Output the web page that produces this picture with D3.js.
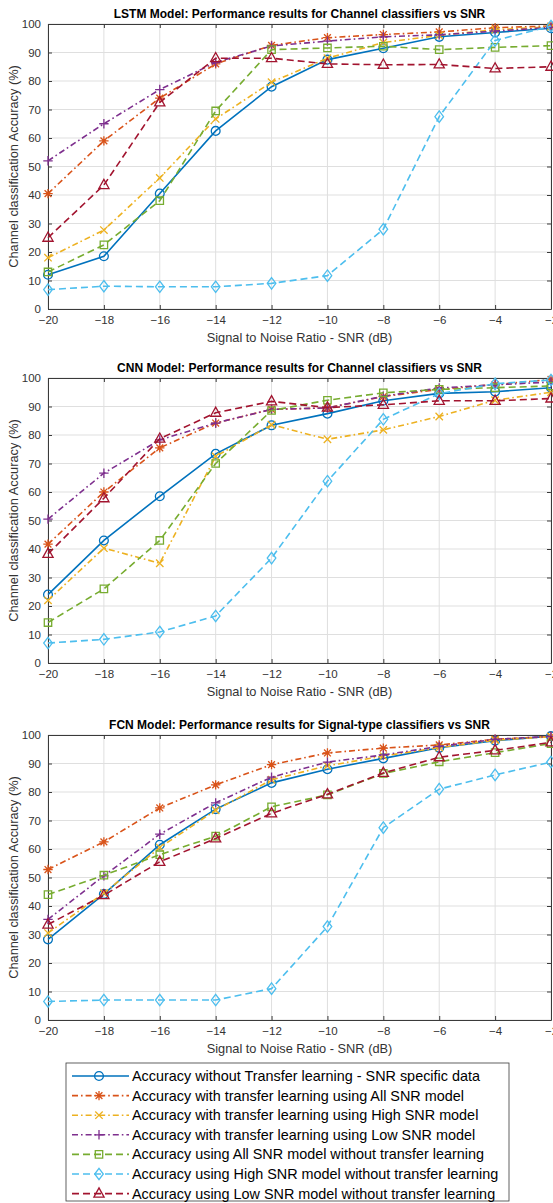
<!DOCTYPE html>
<html>
<head>
<meta charset="utf-8">
<script src="https://cdn.jsdelivr.net/npm/d3@7"></script>
<style>
  body { margin: 0; background: #fff; }
  svg { display: block; font-family: "Liberation Sans", Arial, sans-serif; }
  .tick-label { font-size: 11.5px; fill: #333; }
  .axis-label { font-size: 12.8px; fill: #333; }
  .panel-title { font-size: 12px; font-weight: bold; fill: #000; }
  .legend-text { font-size: 14.4px; fill: #000; }
</style>
</head>
<body>
<div id="chart"></div>
<script>
// x values (dB)
const snr = [-20, -18, -16, -14, -12, -10, -8, -6, -4, -2];
const yTicks = [0, 10, 20, 30, 40, 50, 60, 70, 80, 90, 100];

const seriesNames = [
  "Accuracy without Transfer learning - SNR specific data",
  "Accuracy with transfer learning using All SNR model",
  "Accuracy with transfer learning using High SNR model",
  "Accuracy with transfer learning using Low SNR model",
  "Accuracy using All SNR model without transfer learning",
  "Accuracy using High SNR model without transfer learning",
  "Accuracy using Low SNR model without transfer learning"
];
const seriesColors = ["#0072BD", "#D95319", "#EDB120", "#7E2F8E", "#77AC30", "#4DBEEE", "#A2142F"];
const seriesMarkers = ["circle", "asterisk", "times", "plus", "square", "diamond", "triangle"];
const seriesDash = ["solid", "dashdot", "dashdot", "dashdot", "dashed", "dashed", "dashed"];

// accuracy (%) per series, same order as seriesNames
const lstmAcc = [
  [12, 18.5, 40.5, 62.5, 78, 87.5, 91.5, 95.5, 97, 98.5],
  [40.5, 59, 74, 86, 92.5, 95.2, 96.3, 97.2, 98.7, 99.3],
  [18, 27.7, 46, 66.7, 79.6, 88, 93.5, 96, 98, 99],
  [52, 65, 77, 86.5, 92.3, 94, 95.5, 96.2, 97.5, 98.8],
  [13, 22.5, 38, 69.5, 91, 91.6, 92.2, 91, 91.8, 92.4],
  [6.8, 8, 7.8, 7.8, 9, 11.7, 28, 67.5, 94.2, 99.3],
  [25, 43.5, 72.5, 88, 88, 86, 85.7, 85.8, 84.4, 85]
];
const cnnAcc = [
  [24, 43, 58.5, 73.4, 83.4, 87.5, 92, 94.6, 95.2, 96.6],
  [41.7, 60, 75.5, 84.2, 89, 89.5, 93.5, 96, 97.7, 99.5],
  [22, 40.3, 35, 72.5, 83.6, 78.5, 81.8, 86.5, 92.2, 95],
  [50.5, 66.6, 78.3, 84.2, 89, 89.5, 93.6, 96.5, 97.6, 98.6],
  [14.2, 26, 43, 70, 88.6, 92.2, 94.8, 96, 96.6, 97.2],
  [7, 8.3, 10.9, 16.5, 36.8, 63.8, 85.5, 94.5, 98, 99.3],
  [38.3, 57.8, 78.7, 87.8, 91.8, 89.6, 90.6, 92, 92, 92.8]
];
const fcnAcc = [
  [28.3, 44.2, 61.5, 74, 83.2, 88, 91.8, 95.5, 98, 99.6],
  [52.8, 62.5, 74.4, 82.5, 89.6, 93.7, 95.4, 96.5, 98.5, 99.5],
  [30.5, 44.5, 60.5, 73.6, 84.3, 89.2, 92.6, 95.6, 98.2, 99.4],
  [35.3, 50.6, 65.2, 76.2, 85.2, 90.5, 93, 96, 98.5, 99.5],
  [44, 50.8, 58, 64.5, 74.8, 79, 86.5, 90.6, 93.8, 97],
  [6.5, 7, 7, 7, 11, 32.8, 67.5, 81, 86, 90.5],
  [33.5, 43.8, 55.5, 63.7, 72.5, 79.2, 86.7, 92.2, 94.6, 97.4]
];

const panelTitles = [
  "LSTM Model: Performance results for Channel classifiers vs SNR",
  "CNN Model: Performance results for Channel classifiers vs SNR",
  "FCN Model: Performance results for Signal-type classifiers vs SNR"
];
const panelData = [lstmAcc, cnnAcc, fcnAcc];

const width = 553, height = 1203;
const plotLeft = 48, plotRight = 551, plotHeight = 285;
const panelTops = [24, 378, 735];
const axisColor = "#3a3a3a";

const dashArrays = { solid: null, dashdot: "6,3,1.6,3", dashed: "7,4" };

function markerPath(type) {
  if (type === "circle") return d3.symbol().type(d3.symbolCircle).size(Math.PI * 4.4 * 4.4)();
  if (type === "square") return "M-3.7,-3.7H3.7V3.7H-3.7Z";
  if (type === "diamond") return "M0,-5.7L4.3,0L0,5.7L-4.3,0Z";
  if (type === "triangle") return "M0,-5.7L5.1,3.5L-5.1,3.5Z";
  if (type === "plus") return "M0,-4.7V4.7M-4.7,0H4.7";
  if (type === "times") return "M-3.7,-3.7L3.7,3.7M-3.7,3.7L3.7,-3.7";
  // asterisk
  return "M0,-4.7V4.7M-4.7,0H4.7M-3.4,-3.4L3.4,3.4M-3.4,3.4L3.4,-3.4";
}

const svg = d3.select("#chart")
  .append("svg")
  .attr("width", width)
  .attr("height", height);

const x = d3.scaleLinear().domain([-20, -2]).range([plotLeft, plotRight]);

panelTops.forEach((top, p) => {
  const y = d3.scaleLinear().domain([0, 100]).range([top + plotHeight, top]);
  const g = svg.append("g");

  // grid
  g.append("g")
    .selectAll("line.vgrid")
    .data(snr)
    .join("line")
    .attr("x1", (d) => x(d)).attr("x2", (d) => x(d))
    .attr("y1", top).attr("y2", top + plotHeight)
    .attr("stroke", "#dfdfdf").attr("stroke-width", 1);
  g.append("g")
    .selectAll("line.hgrid")
    .data(yTicks)
    .join("line")
    .attr("x1", plotLeft).attr("x2", plotRight)
    .attr("y1", (d) => y(d)).attr("y2", (d) => y(d))
    .attr("stroke", "#dfdfdf").attr("stroke-width", 1);

  // axes (ticks inside, box on)
  const xAxisB = d3.axisBottom(x).tickValues(snr).tickSize(-4).tickSizeOuter(0).tickPadding(7).tickFormat(d3.format("d"));
  const xAxisT = d3.axisTop(x).tickValues(snr).tickSize(-4).tickSizeOuter(0).tickFormat("");
  const yAxisL = d3.axisLeft(y).tickValues(yTicks).tickSize(-4).tickSizeOuter(0).tickPadding(7);
  const yAxisR = d3.axisRight(y).tickValues(yTicks).tickSize(-4).tickSizeOuter(0).tickFormat("");

  const axes = [
    g.append("g").attr("transform", `translate(0,${top + plotHeight})`).call(xAxisB),
    g.append("g").attr("transform", `translate(0,${top})`).call(xAxisT),
    g.append("g").attr("transform", `translate(${plotLeft},0)`).call(yAxisL),
    g.append("g").attr("transform", `translate(${plotRight},0)`).call(yAxisR)
  ];
  axes.forEach((a) => {
    a.select(".domain").attr("stroke", axisColor);
    a.selectAll(".tick line").attr("stroke", axisColor);
    a.selectAll(".tick text").attr("class", "tick-label").attr("font-family", null).attr("font-size", null);
    a.attr("font-family", null).attr("font-size", null);
  });

  // series
  panelData[p].forEach((vals, s) => {
    const pts = snr.map((v, i) => [v, vals[i]]);
    const line = d3.line().x((d) => x(d[0])).y((d) => y(d[1]));
    g.append("path")
      .attr("d", line(pts))
      .attr("fill", "none")
      .attr("stroke", seriesColors[s])
      .attr("stroke-width", 1.6)
      .attr("stroke-dasharray", dashArrays[seriesDash[s]]);
    g.selectAll(null)
      .data(pts)
      .join("path")
      .attr("transform", (d) => `translate(${x(d[0])},${y(d[1])})`)
      .attr("d", markerPath(seriesMarkers[s]))
      .attr("fill", "none")
      .attr("stroke", seriesColors[s])
      .attr("stroke-width", 1.3);
  });

  // labels
  g.append("text")
    .attr("class", "panel-title")
    .attr("text-anchor", "middle")
    .attr("x", (plotLeft + plotRight) / 2)
    .attr("y", top - 6)
    .text(panelTitles[p]);
  g.append("text")
    .attr("class", "axis-label")
    .attr("text-anchor", "middle")
    .attr("x", (plotLeft + plotRight) / 2)
    .attr("y", top + plotHeight + 33)
    .text("Signal to Noise Ratio - SNR (dB)");
  g.append("text")
    .attr("class", "axis-label")
    .attr("text-anchor", "middle")
    .attr("transform", `translate(18,${top + plotHeight / 2}) rotate(-90)`)
    .text("Channel classification Accuracy (%)");
});

// legend
const legend = svg.append("g");
legend.append("rect")
  .attr("x", 66).attr("y", 1063)
  .attr("width", 443).attr("height", 138)
  .attr("fill", "#fff")
  .attr("stroke", axisColor)
  .attr("stroke-width", 0.8);

const legendRows = legend.selectAll("g.row")
  .data(seriesNames)
  .join("g")
  .attr("transform", (d, i) => `translate(0,${1076 + i * 19.6})`);

legendRows.append("line")
  .attr("x1", 72).attr("x2", 129)
  .attr("stroke", (d, i) => seriesColors[i])
  .attr("stroke-width", 1.6)
  .attr("stroke-dasharray", (d, i) => dashArrays[seriesDash[i]]);
legendRows.append("path")
  .attr("transform", "translate(99,0)")
  .attr("d", (d, i) => markerPath(seriesMarkers[i]))
  .attr("fill", "none")
  .attr("stroke", (d, i) => seriesColors[i])
  .attr("stroke-width", 1.3);
legendRows.append("text")
  .attr("class", "legend-text")
  .attr("x", 132)
  .attr("dy", "0.35em")
  .text((d) => d);
</script>
</body>
</html>
